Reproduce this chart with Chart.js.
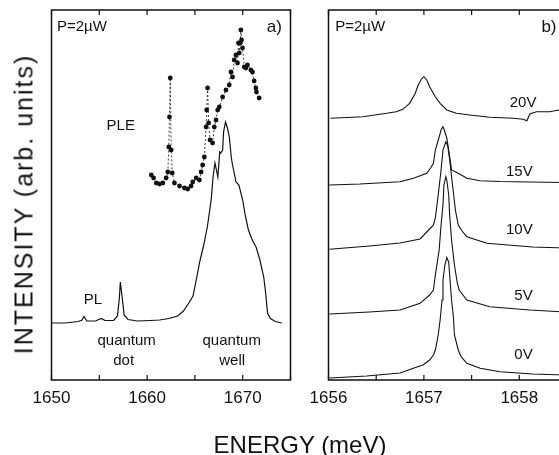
<!DOCTYPE html>
<html>
<head>
<meta charset="utf-8">
<script src="https://cdn.jsdelivr.net/npm/chart.js@4.4.0/dist/chart.umd.min.js"></script>
<style>
html, body { margin: 0; padding: 0; background: #fff; }
body { width: 559px; height: 455px; overflow: hidden; position: relative; font-family: "Liberation Sans", Arial, sans-serif; color: #111; }
#wrapA { position: absolute; left: 0; top: 0; width: 300px; height: 455px; }
#wrapB { position: absolute; left: 300px; top: 0; width: 280px; height: 455px; }
#ytitle { position: absolute; left: 23.5px; top: 203.5px; transform: translate(-50%, -50%) rotate(-90deg); white-space: nowrap; font-size: 25px; letter-spacing: 2px; }
#xtitle { position: absolute; left: 300px; top: 445px; transform: translate(-50%, -50%); white-space: nowrap; font-size: 24px; }
</style>
</head>
<body>
<div id="wrapA"><canvas id="chartA" width="300" height="455"></canvas></div>
<div id="wrapB"><canvas id="chartB" width="280" height="455"></canvas></div>
<div id="ytitle">INTENSITY (arb. units)</div>
<div id="xtitle">ENERGY (meV)</div>
<script>
// panel a) - PL spectrum
const plEnergy = [1650.0, 1651.4, 1652.8, 1653.2, 1653.4, 1653.7, 1654.6, 1655.2, 1655.6, 1656.5,
  1656.9, 1657.1, 1657.2, 1657.4, 1657.6, 1658.0, 1659.0, 1660.3, 1661.3, 1662.3,
  1663.2, 1663.8, 1664.3, 1664.8, 1665.2, 1665.5, 1665.9, 1666.3, 1666.7, 1666.9,
  1667.1, 1667.4, 1667.6, 1667.7, 1667.9, 1668.0, 1668.2, 1668.4, 1668.6, 1668.8,
  1668.9, 1669.3, 1669.6, 1670.0, 1670.3, 1670.6, 1671.0, 1671.4, 1671.8, 1672.2,
  1672.4, 1672.6, 1672.9, 1673.4, 1674.1];
const plIntensity = [5.7, 5.7, 5.85, 6.0, 6.35, 5.9, 5.9, 6.15, 5.95, 5.95,
  6.4, 8.2, 9.8, 8.2, 6.5, 6.05, 5.9, 5.95, 6.0, 6.15,
  6.4, 6.9, 7.6, 8.4, 10.3, 11.8, 13.4, 15.3, 18.0, 20.3,
  21.7, 20.3, 22.8, 22.7, 23.0, 24.8, 25.8, 25.2, 24.3, 22.3,
  21.7, 19.8, 19.5, 18.0, 16.3, 15.0, 14.0, 13.3, 12.0, 10.3,
  8.7, 6.7, 6.15, 5.85, 5.7];

// panel a) - PLE spectrum
const pleEnergy = [1660.44, 1660.68, 1660.96, 1661.30, 1661.65, 1662.00, 1662.17, 1662.27, 1662.34, 1662.42,
  1662.52, 1662.63, 1662.86, 1663.39, 1663.91, 1664.25, 1664.60, 1664.77, 1665.13, 1665.47,
  1665.65, 1665.81, 1665.99, 1666.17, 1666.23, 1666.33, 1666.44, 1666.58, 1666.85, 1667.03,
  1667.21, 1667.38, 1667.55, 1667.90, 1668.25, 1668.59, 1668.77, 1668.94, 1669.11, 1669.29,
  1669.46, 1669.56, 1669.64, 1669.74, 1669.81, 1669.88, 1669.98, 1670.16, 1670.33, 1670.50,
  1670.85, 1671.02, 1671.20, 1671.38, 1671.44, 1671.72];
const pleIntensity = [20.5, 20.2, 19.7, 19.6, 19.7, 20.2, 20.8, 23.3, 26.3, 30.2,
  23.0, 20.7, 19.7, 19.4, 19.2, 19.1, 19.4, 19.8, 20.2, 20.0,
  20.8, 21.5, 22.3, 25.3, 27.0, 29.2, 25.7, 24.0, 23.7, 25.3,
  26.0, 27.0, 27.3, 28.3, 29.0, 29.5, 30.8, 30.3, 32.0, 32.5,
  31.7, 33.7, 32.7, 33.7, 35.0, 34.0, 33.2, 31.3, 31.2, 31.5,
  31.0, 30.8, 29.9, 29.2, 28.8, 28.2];

// panel b) - spectra at several voltages (offset vertically)
const voltageLabels = ['0V', '5V', '10V', '15V', '20V'];
const energy0V = [1656.01, 1656.40, 1656.75, 1656.89, 1656.99, 1657.06, 1657.10, 1657.12, 1657.15, 1657.17,
  1657.18, 1657.19, 1657.20, 1657.22, 1657.24, 1657.26, 1657.27, 1657.29, 1657.31, 1657.32,
  1657.36, 1657.39, 1657.45, 1657.59, 1657.80, 1658.14, 1658.48];
const intensity0V = [0.2, 0.4, 0.7, 1.17, 1.5, 2.0, 2.5, 3.0, 4.5, 6.0,
  7.0, 8.0, 10.0, 11.5, 12.23, 11.8, 10.5, 8.0, 6.2, 4.5,
  3.0, 2.33, 1.67, 1.17, 0.83, 0.6, 0.5];
const energy5V = [1656.01, 1656.43, 1656.75, 1656.96, 1657.06, 1657.10, 1657.12, 1657.16, 1657.18, 1657.20,
  1657.21, 1657.23, 1657.24, 1657.26, 1657.27, 1657.29, 1657.32, 1657.35, 1657.37, 1657.45,
  1657.69, 1658.11, 1658.48];
const intensity5V = [6.6, 6.8, 7.0, 7.67, 8.5, 9.0, 10.5, 13.0, 15.5, 17.5,
  19.5, 20.33, 20.0, 18.5, 16.5, 14.0, 11.5, 9.7, 9.0, 8.0,
  7.33, 7.0, 6.8];
const energy10V = [1656.01, 1656.43, 1656.75, 1656.96, 1657.03, 1657.10, 1657.12, 1657.15, 1657.18, 1657.20,
  1657.23, 1657.25, 1657.27, 1657.30, 1657.33, 1657.36, 1657.40, 1657.45, 1657.66, 1658.14,
  1658.48];
const intensity10V = [13.07, 13.4, 13.7, 14.1, 14.8, 15.5, 16.2, 18.5, 21.0, 23.0,
  23.83, 23.4, 22.0, 19.5, 17.0, 15.5, 14.9, 14.33, 13.67, 13.3,
  13.2];
const energy15V = [1656.01, 1656.33, 1656.75, 1656.89, 1657.03, 1657.07, 1657.10, 1657.12, 1657.16, 1657.18,
  1657.20, 1657.21, 1657.24, 1657.26, 1657.28, 1657.29, 1657.36, 1657.45, 1657.59, 1657.80,
  1658.11, 1658.48];
const intensity15V = [19.5, 19.6, 19.83, 20.17, 20.67, 21.2, 21.67, 23.0, 24.3, 25.0,
  25.33, 25.1, 24.2, 23.0, 21.7, 21.0, 20.67, 20.17, 19.93, 19.85,
  19.8, 19.75];
const energy20V = [1656.02, 1656.36, 1656.61, 1656.71, 1656.78, 1656.85, 1656.91, 1656.94, 1656.98, 1657.00,
  1657.03, 1657.06, 1657.12, 1657.17, 1657.24, 1657.34, 1657.48, 1657.69, 1657.94, 1658.04,
  1658.08, 1658.11, 1658.18, 1658.32, 1658.41, 1658.50];
const intensity20V = [26.17, 26.33, 26.67, 26.83, 27.07, 27.67, 28.67, 29.5, 30.17, 30.33,
  30.0, 29.33, 28.33, 27.67, 27.0, 26.67, 26.5, 26.27, 26.17, 26.07,
  25.93, 26.6, 26.83, 26.83, 27.0, 27.05];

const INK = '#111';
const FONT = '"Liberation Sans", Arial, sans-serif';

function pairs(xs, ys) {
  return xs.map((x, i) => ({ x: x, y: ys[i] }));
}

function curve(xs, ys) {
  return {
    data: pairs(xs, ys),
    showLine: true,
    borderColor: INK,
    borderWidth: 1.1,
    pointRadius: 0,
    tension: 0
  };
}

// box frame with inward ticks on top and bottom
const frameTicks = {
  id: 'frameTicks',
  afterDraw(chart) {
    const ctx = chart.ctx;
    const a = chart.chartArea;
    const x = chart.scales.x;
    ctx.save();
    ctx.strokeStyle = INK;
    ctx.lineWidth = 1.5;
    ctx.strokeRect(a.left, a.top, a.right - a.left, a.bottom - a.top);
    ctx.lineWidth = 1.2;
    x.ticks.forEach(t => {
      const px = x.getPixelForValue(t.value);
      ctx.beginPath();
      ctx.moveTo(px, a.bottom);
      ctx.lineTo(px, a.bottom - 5);
      ctx.moveTo(px, a.top);
      ctx.lineTo(px, a.top + 5);
      ctx.stroke();
    });
    ctx.restore();
  }
};

// text notes placed in data coordinates
const notes = {
  id: 'notes',
  afterDraw(chart, args, opts) {
    const ctx = chart.ctx;
    const x = chart.scales.x, y = chart.scales.y;
    ctx.save();
    ctx.fillStyle = INK;
    ctx.textBaseline = 'middle';
    (opts.items || []).forEach(n => {
      ctx.font = (n.size || 15) + 'px ' + FONT;
      ctx.textAlign = n.align || 'center';
      ctx.fillText(n.text, x.getPixelForValue(n.x), y.getPixelForValue(n.y));
    });
    ctx.restore();
  }
};

function baseOptions(xmin, xmax, step, padLeft, padRight, every, notesList) {
  return {
    responsive: false,
    animation: false,
    layout: { padding: { left: padLeft, right: padRight, top: 10, bottom: 0 } },
    plugins: { legend: { display: false }, tooltip: { enabled: false }, notes: { items: notesList } },
    scales: {
      x: {
        type: 'linear',
        min: xmin,
        max: xmax,
        grid: { display: false, drawTicks: false },
        border: { display: false },
        afterFit: s => { s.height = 75; },
        ticks: {
          stepSize: step,
          padding: 8,
          color: INK,
          font: { family: FONT, size: 17 },
          maxRotation: 0,
          autoSkip: false,
          callback: v => (Math.abs(v / every - Math.round(v / every)) < 1e-6 ? String(v) : '')
        }
      },
      y: { type: 'linear', min: 0, max: 37, display: false }
    }
  };
}

const plSet = curve(plEnergy, plIntensity);
plSet.borderWidth = 1.2;
const pleSet = {
  data: pairs(pleEnergy, pleIntensity),
  showLine: true,
  borderColor: INK,
  borderWidth: 0.8,
  borderDash: [2, 2],
  pointRadius: 2.4,
  pointBackgroundColor: INK,
  pointBorderWidth: 0,
  tension: 0
};

new Chart(document.getElementById('chartA'), {
  type: 'scatter',
  data: { datasets: [plSet, pleSet] },
  options: baseOptions(1650, 1675, 5, 51.5, 9.5, 10, [
    { text: 'P=2\u00b5W', x: 1650.57, y: 35.3, align: 'left' },
    { text: 'a)', x: 1674.1, y: 35.3, align: 'right', size: 17 },
    { text: 'PLE', x: 1657.24, y: 25.4 },
    { text: 'PL', x: 1654.32, y: 8.0 },
    { text: 'quantum', x: 1657.86, y: 3.9 },
    { text: 'dot', x: 1657.55, y: 1.9 },
    { text: 'quantum', x: 1668.85, y: 3.9 },
    { text: 'well', x: 1668.9, y: 1.9 }
  ]),
  plugins: [frameTicks, notes]
});

new Chart(document.getElementById('chartB'), {
  type: 'scatter',
  data: {
    datasets: [
      curve(energy0V, intensity0V),
      curve(energy5V, intensity5V),
      curve(energy10V, intensity10V),
      curve(energy15V, intensity15V),
      curve(energy20V, intensity20V)
    ]
  },
  options: baseOptions(1656, 1658.5, 0.5, 28.5, 13, 1, [
    { text: 'P=2\u00b5W', x: 1656.07, y: 35.3, align: 'left' },
    { text: 'b)', x: 1658.39, y: 35.3, align: 'right', size: 17 },
    { text: voltageLabels[4], x: 1658.18, y: 27.7, align: 'right' },
    { text: voltageLabels[3], x: 1658.14, y: 20.8, align: 'right' },
    { text: voltageLabels[2], x: 1658.14, y: 15.0, align: 'right' },
    { text: voltageLabels[1], x: 1658.14, y: 8.4, align: 'right' },
    { text: voltageLabels[0], x: 1658.14, y: 2.5, align: 'right' }
  ]),
  plugins: [frameTicks, notes]
});
</script>
</body>
</html>
